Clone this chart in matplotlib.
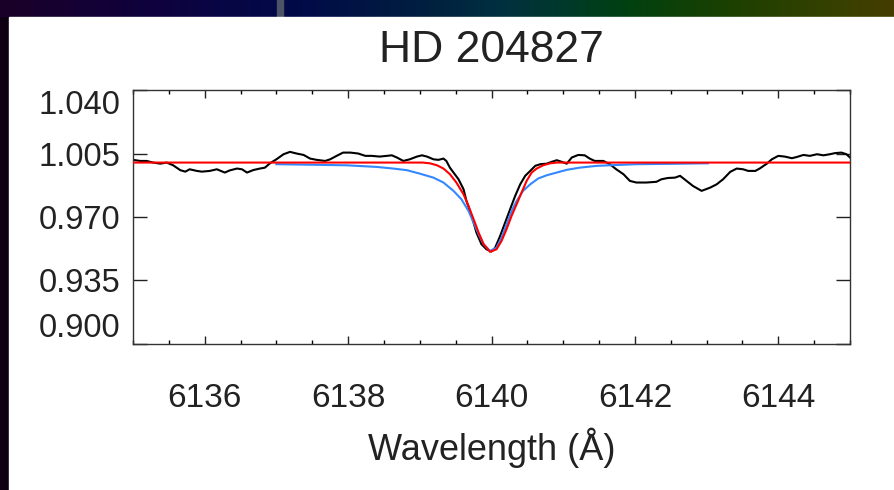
import numpy as np
import matplotlib
matplotlib.use("Agg")
import matplotlib.pyplot as plt
from matplotlib.patches import Rectangle
from matplotlib.colors import LinearSegmentedColormap

plt.rcParams['font.family'] = ['Liberation Sans', 'DejaVu Sans']

# ---------------- data ----------------
title = "HD 204827"
xlabel = "Wavelength (Å)"
xticks = [6136, 6138, 6140, 6142, 6144]
yticks = [0.900, 0.935, 0.970, 1.005, 1.040]
ytick_labels = ["0.900", "0.935", "0.970", "1.005", "1.040"]

obs_wl = [6135.00, 6135.10, 6135.19, 6135.28, 6135.38, 6135.47, 6135.56, 6135.66, 6135.73, 6135.79,
          6135.89, 6135.96, 6136.07, 6136.17, 6136.28, 6136.35, 6136.45, 6136.52, 6136.59, 6136.68,
          6136.77, 6136.84, 6136.91, 6137.00, 6137.10, 6137.19, 6137.28, 6137.38, 6137.47, 6137.56,
          6137.68, 6137.75, 6137.84, 6137.93, 6138.03, 6138.14, 6138.24, 6138.33, 6138.44, 6138.54,
          6138.61, 6138.68, 6138.77, 6138.86, 6138.96, 6139.03, 6139.10, 6139.19, 6139.26, 6139.33,
          6139.37, 6139.42, 6139.47, 6139.54, 6139.61, 6139.65, 6139.70, 6139.75, 6139.79, 6139.86,
          6139.93, 6140.00, 6140.05, 6140.12, 6140.19, 6140.26, 6140.33, 6140.40, 6140.47, 6140.54,
          6140.61, 6140.68, 6140.77, 6140.84, 6140.91, 6140.98, 6141.05, 6141.12, 6141.21, 6141.30,
          6141.37, 6141.44, 6141.56, 6141.65, 6141.74, 6141.84, 6141.93, 6142.02, 6142.16, 6142.30,
          6142.37, 6142.46, 6142.56, 6142.63, 6142.72, 6142.81, 6142.93, 6143.05, 6143.14, 6143.23,
          6143.33, 6143.42, 6143.51, 6143.58, 6143.68, 6143.74, 6143.84, 6143.91, 6144.00, 6144.09,
          6144.19, 6144.26, 6144.35, 6144.44, 6144.54, 6144.63, 6144.72, 6144.79, 6144.88, 6144.95,
          6145.00]
obs_flux = [1.0015, 1.0009, 1.0009, 1.0000, 0.9994, 1.0000, 0.9985, 0.9958, 0.9950, 0.9963,
            0.9954, 0.9950, 0.9954, 0.9963, 0.9945, 0.9957, 0.9967, 0.9963, 0.9945, 0.9959,
            0.9967, 0.9972, 0.9996, 1.0018, 1.0046, 1.0059, 1.0050, 1.0042, 1.0022, 1.0015,
            1.0009, 1.0018, 1.0037, 1.0055, 1.0055, 1.0050, 1.0037, 1.0037, 1.0033, 1.0037,
            1.0040, 1.0028, 1.0009, 1.0018, 1.0033, 1.0040, 1.0033, 1.0018, 1.0015, 1.0022,
            1.0009, 0.9972, 0.9945, 0.9908, 0.9853, 0.9790, 0.9733, 0.9669, 0.9614, 0.9550,
            0.9522, 0.9510, 0.9530, 0.9595, 0.9669, 0.9743, 0.9816, 0.9880, 0.9927, 0.9954,
            0.9982, 0.9991, 0.9994, 1.0004, 1.0013, 1.0004, 0.9994, 1.0028, 1.0042, 1.0040,
            1.0022, 1.0009, 1.0009, 0.9991, 0.9963, 0.9936, 0.9899, 0.9890, 0.9890, 0.9894,
            0.9908, 0.9915, 0.9917, 0.9927, 0.9899, 0.9871, 0.9844, 0.9862, 0.9880, 0.9908,
            0.9949, 0.9967, 0.9963, 0.9954, 0.9954, 0.9967, 0.9994, 1.0018, 1.0037, 1.0033,
            1.0024, 1.0031, 1.0042, 1.0037, 1.0046, 1.0040, 1.0046, 1.0052, 1.0055, 1.0046,
            1.0028]

red_wl = [6135.00, 6139.04, 6139.14, 6139.24, 6139.33, 6139.42, 6139.51, 6139.61, 6139.68, 6139.75,
          6139.82, 6139.89, 6139.98, 6140.07, 6140.14, 6140.21, 6140.28, 6140.35, 6140.42, 6140.49,
          6140.56, 6140.63, 6140.72, 6140.82, 6140.91, 6145.00]
red_flux = [1.0000, 1.0000, 0.9996, 0.9985, 0.9967, 0.9936, 0.9890, 0.9825, 0.9760, 0.9688,
            0.9614, 0.9550, 0.9508, 0.9522, 0.9568, 0.9633, 0.9706, 0.9770, 0.9835, 0.9899,
            0.9945, 0.9967, 0.9985, 0.9996, 1.0000, 1.0000]

blue_wl = [6137.00, 6137.98, 6138.40, 6138.63, 6138.82, 6139.00, 6139.19, 6139.33, 6139.47, 6139.58,
           6139.68, 6139.75, 6139.82, 6139.89, 6139.98, 6140.07, 6140.14, 6140.21, 6140.28, 6140.35,
           6140.44, 6140.54, 6140.65, 6140.77, 6140.91, 6141.05, 6141.23, 6141.47, 6141.65, 6142.02,
           6142.50, 6143.02]
blue_flux = [0.9991, 0.9985, 0.9976, 0.9967, 0.9958, 0.9939, 0.9917, 0.9890, 0.9844, 0.9798,
             0.9733, 0.9669, 0.9605, 0.9550, 0.9513, 0.9531, 0.9586, 0.9660, 0.9733, 0.9788,
             0.9844, 0.9880, 0.9912, 0.9930, 0.9945, 0.9960, 0.9972, 0.9982, 0.9985, 0.9991,
             0.9993, 0.9996]

# ---------------- figure ----------------
W, H = 895, 490
fig = plt.figure(figsize=(W / 100, H / 100), dpi=100)
fig.patch.set_facecolor('#0e0012')

# background decoration (slide frame)
bg = fig.add_axes([0, 0, 1, 1], zorder=-5)
bg.set_xlim(0, W)
bg.set_ylim(H, 0)
bg.axis('off')
grad_cols = [(0.0, '#1a0028'), (0.12, '#120038'), (0.25, '#080645'), (0.33, '#000a48'),
             (0.48, '#00203f'), (0.56, '#003040'), (0.64, '#003a28'), (0.70, '#004010'),
             (0.82, '#1c4000'), (0.95, '#3a4000'), (1.0, '#443c00')]
cmap = LinearSegmentedColormap.from_list('strip', grad_cols)
grad = np.linspace(0, 1, 400)[None, :]
bg.imshow(grad, cmap=cmap, extent=[0, W, 17, 0], aspect='auto')
bg.add_patch(Rectangle((277, 0), 6, 17, color='#4c5366'))
bg.add_patch(Rectangle((9, 17), W - 9, H - 17, color='white'))

# main axes
L, R, T, B = 133, 850, 90, 344
ax = fig.add_axes([L / W, 1 - B / H, (R - L) / W, (B - T) / H])
ax.plot(obs_wl, obs_flux, color='black', lw=1.5, zorder=2)
ax.plot(blue_wl, blue_flux, color='#3388ff', lw=1.5, zorder=3)
ax.plot(red_wl, red_flux, color='#ff0000', lw=1.5, zorder=4)

ax.set_xlim(6135, 6145)
ax.set_ylim(0.900, 1.040)
ax.set_xticks(xticks)
ax.set_xticks(np.arange(6135, 6145.01, 0.5), minor=True)
ax.set_yticks(yticks)
ax.set_yticklabels(ytick_labels)

for s in ax.spines.values():
    s.set_color('#333333')
    s.set_linewidth(1.0)

ax.tick_params(axis='x', which='major', direction='in', length=6, width=1, top=True, bottom=True,
               labelsize=24, pad=28, colors='#222222')
ax.tick_params(axis='x', which='minor', direction='in', length=3, width=1, top=True, bottom=True)
ax.tick_params(axis='y', which='major', direction='in', length=10, width=1, left=True, right=True,
               labelsize=23.5, pad=9, colors='#222222')
labs = ax.get_yticklabels()
labs[0].set_va('bottom')
labs[-1].set_va('top')

ax.set_xlabel(xlabel, fontsize=26, color='#222222', labelpad=10)
ax.set_title(title, fontsize=32, color='#222222', pad=20)

fig.savefig('out.png', dpi=100, facecolor=fig.get_facecolor())
